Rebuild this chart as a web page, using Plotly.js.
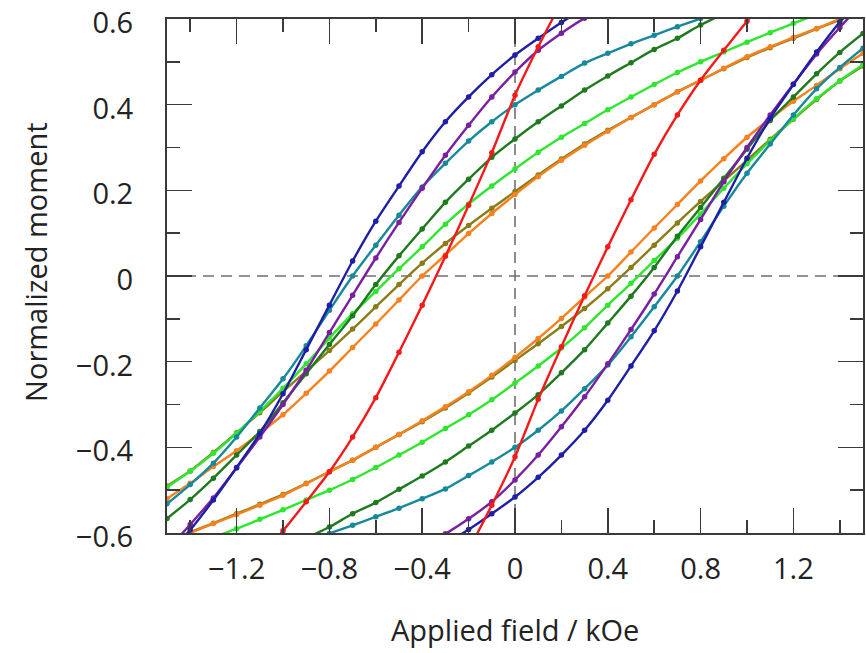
<!DOCTYPE html>
<html>
<head>
<meta charset="utf-8">
<script src="https://cdn.plot.ly/plotly-3.0.1.min.js"></script>
<style>html,body{margin:0;padding:0;background:#fff;}#chart{width:866px;height:653px;}</style>
</head>
<body>
<div id="chart"></div>
<script>
// Applied field (kOe)
const field = [-1.5,-1.4,-1.3,-1.2,-1.1,-1.0,-0.9,-0.8,-0.7,-0.6,-0.5,-0.4,-0.3,-0.2,-0.1,0,0.1,0.2,0.3,0.4,0.5,0.6,0.7,0.8,0.9,1.0,1.1,1.2,1.3,1.4,1.5];

// Normalized moment, descending (upper) and ascending (lower) branches
const blueUpper = [-0.655,-0.593,-0.523,-0.447,-0.368,-0.275,-0.172,-0.068,0.035,0.128,0.21,0.29,0.36,0.418,0.47,0.516,0.555,0.592,0.625,null,null,null,null,null,null,null,null,null,null,null,null];
const blueLower = [null,null,null,null,null,null,null,null,null,null,null,null,-0.625,-0.592,-0.555,-0.516,-0.47,-0.418,-0.36,-0.29,-0.21,-0.128,-0.035,0.068,0.172,0.275,0.368,0.447,0.523,0.593,0.655];

const purpleUpper = [-0.64,-0.58,-0.518,-0.448,-0.376,-0.30,-0.22,-0.132,-0.045,0.042,0.125,0.205,0.282,0.352,0.418,0.476,0.527,0.567,0.602,0.63,null,null,null,null,null,null,null,null,null,null,null];
const purpleLower = [null,null,null,null,null,null,null,null,null,null,null,-0.63,-0.602,-0.567,-0.527,-0.476,-0.418,-0.352,-0.282,-0.205,-0.125,-0.042,0.045,0.132,0.22,0.30,0.376,0.448,0.518,0.58,0.64];

const tealUpper = [-0.532,-0.487,-0.437,-0.376,-0.308,-0.24,-0.163,-0.08,0.0,0.072,0.142,0.208,0.263,0.315,0.36,0.4,0.434,0.466,0.497,0.52,0.542,0.562,0.582,0.601,0.62,null,null,null,null,null,null];
const tealLower = [null,null,null,null,null,null,-0.62,-0.601,-0.582,-0.562,-0.542,-0.52,-0.497,-0.466,-0.434,-0.4,-0.36,-0.315,-0.263,-0.208,-0.142,-0.072,0.0,0.08,0.163,0.24,0.308,0.376,0.437,0.487,0.532];

const darkGreenUpper = [-0.566,-0.522,-0.472,-0.418,-0.363,-0.296,-0.228,-0.16,-0.093,-0.02,0.047,0.11,0.172,0.226,0.277,0.32,0.36,0.397,0.434,0.467,0.498,0.529,0.555,0.586,0.612,null,null,null,null,null,null];
const darkGreenLower = [null,null,null,null,null,null,-0.612,-0.586,-0.555,-0.529,-0.498,-0.467,-0.434,-0.397,-0.36,-0.32,-0.277,-0.226,-0.172,-0.11,-0.047,0.02,0.093,0.16,0.228,0.296,0.363,0.418,0.472,0.522,0.566];

const greenUpper = [-0.493,-0.456,-0.414,-0.367,-0.316,-0.262,-0.205,-0.145,-0.088,-0.036,0.017,0.068,0.121,0.168,0.21,0.25,0.289,0.324,0.356,0.388,0.418,0.447,0.475,0.5,0.523,0.546,0.568,0.59,0.61,null,null];
const greenLower = [null,null,-0.61,-0.59,-0.568,-0.546,-0.523,-0.5,-0.475,-0.447,-0.418,-0.388,-0.356,-0.324,-0.289,-0.25,-0.21,-0.168,-0.121,-0.068,-0.017,0.036,0.088,0.145,0.205,0.262,0.316,0.367,0.414,0.456,0.493];

const oliveUpper = [-0.49,-0.455,-0.412,-0.366,-0.319,-0.27,-0.222,-0.174,-0.124,-0.072,-0.02,0.03,0.076,0.118,0.158,0.197,0.236,0.273,0.308,0.34,0.37,0.40,0.43,0.457,0.484,0.51,0.533,0.555,0.577,0.598,0.62];
const oliveLower = [-0.62,-0.598,-0.577,-0.555,-0.533,-0.51,-0.484,-0.457,-0.43,-0.40,-0.37,-0.34,-0.308,-0.273,-0.236,-0.197,-0.158,-0.118,-0.076,-0.03,0.02,0.072,0.124,0.174,0.222,0.27,0.319,0.366,0.412,0.455,0.49];

const orangeUpper = [-0.52,-0.484,-0.445,-0.408,-0.367,-0.324,-0.274,-0.222,-0.167,-0.112,-0.056,0.0,0.049,0.099,0.146,0.19,0.232,0.27,0.305,0.338,0.37,0.40,0.43,0.457,0.485,0.512,0.535,0.557,0.578,0.6,0.62];
const orangeLower = [-0.62,-0.6,-0.578,-0.557,-0.535,-0.512,-0.485,-0.457,-0.43,-0.40,-0.37,-0.338,-0.305,-0.27,-0.232,-0.19,-0.146,-0.099,-0.049,0.0,0.056,0.112,0.167,0.222,0.274,0.324,0.367,0.408,0.445,0.484,0.52];

const redUpper = [null,null,null,null,-0.66,-0.595,-0.527,-0.457,-0.376,-0.284,-0.178,-0.068,0.046,0.165,0.288,0.422,0.535,0.64,null,null,null,null,null,null,null,null,null,null,null,null,null];
const redLower = [null,null,null,null,null,null,null,null,null,null,null,null,null,-0.64,-0.535,-0.422,-0.288,-0.165,-0.046,0.068,0.178,0.284,0.376,0.457,0.527,0.595,0.66,null,null,null,null];

const xTickVals = [-1.2,-0.8,-0.4,0,0.4,0.8,1.2];
const xTickText = ['\u22121.2','\u22120.8','\u22120.4','0','0.4','0.8','1.2'];
const yTickVals = [-0.6,-0.4,-0.2,0,0.2,0.4,0.6];
const yTickText = ['\u22120.6','\u22120.4','\u22120.2','0','0.2','0.4','0.6'];

const series = [
  {name:'olive', color:'#8a7d18', up:oliveUpper, lo:oliveLower},
  {name:'orange', color:'#f5821f', up:orangeUpper, lo:orangeLower},
  {name:'green', color:'#2ee62e', up:greenUpper, lo:greenLower},
  {name:'darkgreen', color:'#1f7a1f', up:darkGreenUpper, lo:darkGreenLower},
  {name:'teal', color:'#17899a', up:tealUpper, lo:tealLower},
  {name:'purple', color:'#7a1fa0', up:purpleUpper, lo:purpleLower},
  {name:'blue', color:'#1e1ea6', up:blueUpper, lo:blueLower},
  {name:'red', color:'#f41a1a', up:redUpper, lo:redLower}
];

const traces = [];
series.forEach(s => {
  [s.up, s.lo].forEach(arr => {
    traces.push({
      x: field, y: arr, type:'scatter', mode:'lines+markers',
      line:{color:s.color, width:2.4, shape:'spline', smoothing:0.8},
      marker:{color:s.color, size:5.5},
      showlegend:false, hoverinfo:'skip', name:s.name
    });
  });
});

const font = {family:'"Open Sans", "DejaVu Sans", sans-serif', size:29, color:'#222'};

const axisCommon = {
  showgrid:false, zeroline:false, showline:true, linecolor:'#3a3a3a', linewidth:2,
  mirror:'allticks', ticks:'inside', ticklen:25, tickwidth:1.5, tickcolor:'#3a3a3a',
  tickfont:font, ticklabeloverflow:'allow'
};

const layout = {
  width:866, height:653,
  margin:{l:167, r:3, t:19, b:120},
  paper_bgcolor:'#fff', plot_bgcolor:'#fff',
  font:font,
  xaxis: Object.assign({}, axisCommon, {
    range:[-1.5,1.5], tickmode:'array', tickvals:xTickVals, ticktext:xTickText,
    ticklabelstandoff:9,
    minor:{dtick:0.2, tick0:0, ticks:'inside', ticklen:13, tickwidth:1.5, tickcolor:'#3a3a3a', showgrid:false}
  }),
  yaxis: Object.assign({}, axisCommon, {
    range:[-0.6000001,0.6000001], tickmode:'array', tickvals:yTickVals, ticktext:yTickText,
    ticklabelstandoff:26, ticklabelshift:4,
    minor:{dtick:0.1, tick0:0, ticks:'inside', ticklen:13, tickwidth:1.5, tickcolor:'#3a3a3a', showgrid:false}
  }),
  shapes:[
    {type:'line', xref:'x', yref:'y', x0:0, x1:0, y0:-0.6, y1:0.6, layer:'below', line:{color:'#707070', width:1.6, dash:'11px,7px'}},
    {type:'line', xref:'x', yref:'y', x0:-1.5, x1:1.5, y0:0, y1:0, layer:'below', line:{color:'#707070', width:1.6, dash:'11px,7px'}}
  ],
  annotations:[
    {text:'Applied field / kOe', xref:'paper', yref:'paper', x:0.5, y:-0.188, xanchor:'center', yanchor:'middle', showarrow:false, font:font},
    {text:'Normalized moment', xref:'paper', yref:'paper', x:-0.19, y:0.527, xanchor:'center', yanchor:'middle', textangle:-90, showarrow:false, font:font}
  ]
};

Plotly.newPlot('chart', traces, layout, {displayModeBar:false, staticPlot:true});
</script>
</body>
</html>
